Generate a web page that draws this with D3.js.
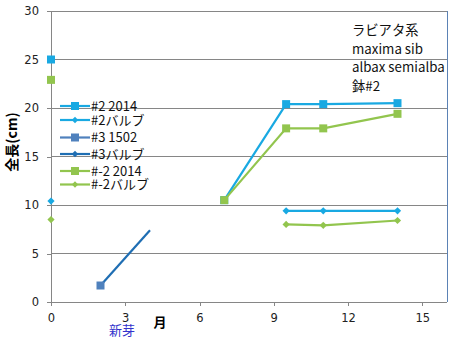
<!DOCTYPE html>
<html><head><meta charset="utf-8">
<script src="https://cdn.jsdelivr.net/npm/d3@7"></script>
<style>body{margin:0;background:#fff}svg{display:block}</style>
</head><body>
<svg id="c" width="462" height="341"></svg>
<script>
// ---- data (null = no value in that row) ----
const months    = [0, 2, 7, 9.5, 11, 14];
const s2_2014   = [25, null, 10.5, 20.4, 20.4, 20.5];   // #2 2014
const s2_bulb   = [10.4, null, null, 9.4, 9.4, 9.4];    // #2バルブ
const s3_1502   = [null, 1.7, null, null, null, null];  // #3 1502
const sm2_2014  = [22.9, null, 10.5, 17.9, 17.9, 19.4]; // #-2 2014
const sm2_bulb  = [8.5, null, null, 8.0, 7.9, 8.4];     // #-2バルブ
const shootX    = [2, 4];
const shootY    = [1.7, 7.4];                           // 新芽 line
const legendNames = ["#2 2014", "#2バルブ", "#3 1502", "#3バルブ", "#-2 2014", "#-2バルブ"];
const xTicks = [0, 3, 6, 9, 12, 15];
const yTicks = [0, 5, 10, 15, 20, 25, 30];
const noteLines = ["ラビアタ系", "maxima sib", "albax semialba", "鉢#2"];

const svg = d3.select("#c");
const x = d3.scaleLinear().domain([0, 16]).range([51, 447]);
const y = d3.scaleLinear().domain([0, 30]).range([302, 11]);
const tickFont = "'DejaVu Sans', Verdana, sans-serif";
const jpFont = "'Noto Sans CJK JP', sans-serif";

// gridlines
svg.append("g").selectAll("line").data(yTicks.filter(d => d > 0)).join("line")
  .attr("x1", x(0)).attr("x2", x(16)).attr("y1", d => y(d)).attr("y2", d => y(d))
  .attr("stroke", "#868686").attr("stroke-width", 1).attr("shape-rendering", "crispEdges");
// right border
svg.append("line").attr("x1", x(16)).attr("x2", x(16)).attr("y1", y(30)).attr("y2", y(0))
  .attr("stroke", "#5b82b5").attr("stroke-width", 1).attr("shape-rendering", "crispEdges");

// axes
const yAxis = svg.append("g").attr("transform", `translate(${x(0)},0)`)
  .call(d3.axisLeft(y).tickValues(yTicks).tickSize(4).tickPadding(8));
const xAxis = svg.append("g").attr("transform", `translate(0,${y(0)})`)
  .call(d3.axisBottom(x).tickValues(xTicks).tickSize(4).tickPadding(8));
[yAxis, xAxis].forEach(g => {
  g.selectAll("path,line").attr("stroke", "#868686").attr("shape-rendering", "crispEdges");
  g.selectAll("text").attr("font-family", tickFont).attr("font-size", 11.5).attr("fill", "#222");
});
yAxis.select(".domain").attr("d", `M0,${y(30)}V${y(0)}`);
xAxis.select(".domain").attr("d", `M${x(0)},0H${x(16)}`);

const blue = "#19a9e2", green = "#92c54e", steel = "#4f81bd", dark = "#1f6eb3";

function drawSeries(ys, color, square) {
  const pts = months.map((d, i) => [d, ys[i]]);
  const line = d3.line().defined(d => d[1] != null).x(d => x(d[0])).y(d => y(d[1]));
  svg.append("path").datum(pts).attr("d", line).attr("fill", "none")
    .attr("stroke", color).attr("stroke-width", 2.2);
  svg.append("g").selectAll("path").data(pts.filter(d => d[1] != null)).join("path")
    .attr("d", d3.symbol().type(d3.symbolSquare).size(square ? 64 : 26))
    .attr("transform", d => `translate(${x(d[0])},${y(d[1])})` + (square ? "" : " rotate(45)"))
    .attr("fill", color);
}
drawSeries(s2_bulb, blue, false);
drawSeries(sm2_bulb, green, false);
drawSeries(s2_2014, blue, true);
drawSeries(sm2_2014, green, true);
// 新芽 line
svg.append("path").datum(shootX.map((d, i) => [d, shootY[i]]))
  .attr("d", d3.line().x(d => x(d[0])).y(d => y(d[1])))
  .attr("fill", "none").attr("stroke", dark).attr("stroke-width", 2.2);
drawSeries(s3_1502, steel, true);

// legend
const legColors = [blue, blue, steel, dark, green, green];
const legY = [106, 120, 137.5, 154, 171, 184.5];
const leg = svg.append("g");
legendNames.forEach((n, i) => {
  const g = leg.append("g").attr("transform", `translate(0,${legY[i]})`);
  g.append("line").attr("x1", 60).attr("x2", 90).attr("stroke", legColors[i]).attr("stroke-width", 2.2);
  const sq = i % 2 === 0;
  g.append("path").attr("d", d3.symbol().type(d3.symbolSquare).size(sq ? 64 : 20))
    .attr("transform", `translate(75,0)` + (sq ? "" : " rotate(45)")).attr("fill", legColors[i]);
  g.append("text").attr("x", 91).attr("y", 0).attr("dy", "0.35em")
    .attr("font-family", jpFont).attr("font-size", 13).attr("fill", "#111").text(n);
});

// note
svg.append("g").selectAll("text").data(noteLines).join("text")
  .attr("x", 352).attr("y", (d, i) => [30, 49, 67, 86][i]).attr("dy", "0.35em")
  .attr("font-family", jpFont).attr("font-size", 13.3).attr("fill", "#111").text(d => d);

// axis titles
svg.append("text").attr("transform", "translate(12,142) rotate(-90)")
  .attr("text-anchor", "middle").attr("dy", "0.35em")
  .attr("font-family", jpFont).attr("font-size", 14).attr("font-weight", "bold").text("全長(cm)");
svg.append("text").attr("x", 160).attr("y", 322).attr("text-anchor", "middle").attr("dy", "0.35em")
  .attr("font-family", jpFont).attr("font-size", 13).attr("font-weight", "bold").text("月");
svg.append("text").attr("x", 122).attr("y", 330).attr("text-anchor", "middle").attr("dy", "0.35em")
  .attr("font-family", jpFont).attr("font-size", 13).attr("fill", "#3333cc").text("新芽");
</script>
</body></html>
